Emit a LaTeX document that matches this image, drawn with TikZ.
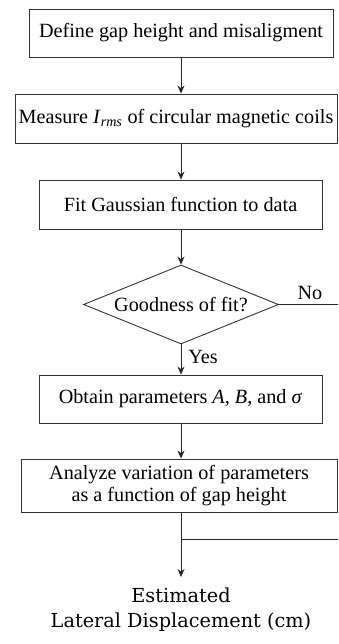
\documentclass[tikz,border=0pt]{standalone}
\usepackage{fontspec}
\setmainfont{Liberation Serif}
\newfontfamily\capfont{DejaVu Serif}
\usetikzlibrary{arrows.meta,shapes.geometric}
\begin{document}
\begin{tikzpicture}[x=1pt,y=-1pt,
  every node/.style={inner sep=0pt,font=\fontsize{20.2}{22}\selectfont},
  stepbox/.style={draw=black!80,line width=0.9pt,rectangle},
  decide/.style={draw=black!80,line width=0.9pt,diamond,aspect=2.47,minimum width=195pt,minimum height=79pt},
  flow/.style={draw=black!85,line width=0.9pt,-{Stealth[length=8pt,width=7pt]}},
  plain/.style={draw=black!85,line width=0.9pt}]
\useasboundingbox (0,0) rectangle (338,644);
\node[stepbox,minimum width=304pt,minimum height=48pt] (b1) at (181,33) {Define gap height and misaligment};
\node[stepbox,minimum width=322pt,minimum height=49pt] (b2) at (176,118.5) {Measure \textit{I}\textsubscript{\textit{rms}} of circular magnetic coils};
\node[stepbox,minimum width=283pt,minimum height=49pt] (b3) at (180.5,204.5) {Fit Gaussian function to data};
\node[decide] (d) at (181,304.5) {Goodness of fit?};
\node[stepbox,minimum width=283pt,minimum height=48pt] (b4) at (180.5,399) {Obtain parameters \textit{A}, \textit{B}, and \textit{σ}};
\node[stepbox,minimum width=316pt,minimum height=53pt,align=center,font=\fontsize{20.2}{22.5}\selectfont] (b5) at (179,485.5) {Analyze variation of parameters\\as a function of gap height};
\node[font=\capfont\fontsize{19.3}{25}\selectfont,align=center,anchor=north] (out) at (181,588) {Estimated\\Lateral Displacement (cm)};
\coordinate (noend) at (338,304.5);
\coordinate (tap) at (181,539);
\coordinate (tapend) at (338,539);
\coordinate (tip) at (181,577);
\node (no) at (310,293) {No};
\node (yes) at (203,357) {Yes};
\draw[flow] (b1.south -| d.north) -- (b2.north -| d.north);
\draw[flow] (b2.south -| d.north) -- (b3.north -| d.north);
\draw[flow] (b3.south -| d.north) -- (d.north);
\draw[plain] (d.east) -- (noend);
\draw[flow] (d.south) -- (b4.north -| d.south);
\draw[flow] (b4.south -| d.north) -- (b5.north -| d.north);
\draw[flow] (b5.south -| d.north) -- (tip);
\draw[plain] (tap) -- (tapend);
\end{tikzpicture}
\end{document}
